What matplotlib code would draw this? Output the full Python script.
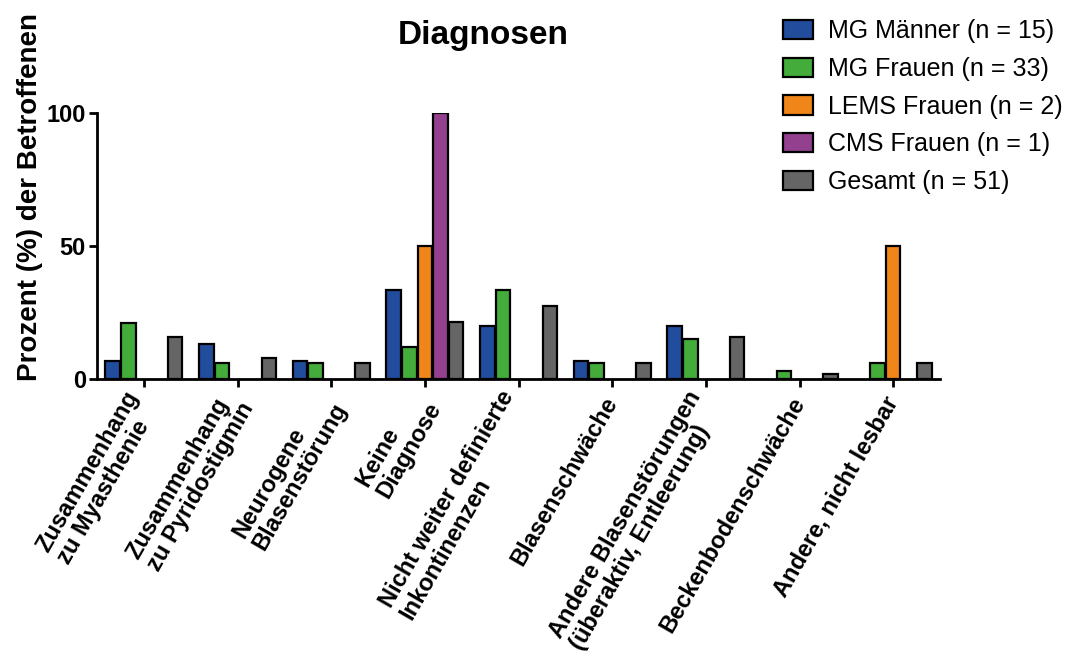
import numpy as np
import matplotlib
matplotlib.use("Agg")
import matplotlib.pyplot as plt

categories = [
    "Zusammenhang\nzu Myasthenie",
    "Zusammenhang\nzu Pyridostigmin",
    "Neurogene\nBlasenstörung",
    "Keine\nDiagnose",
    "Nicht weiter definierte\nInkontinenzen",
    "Blasenschwäche",
    "Andere Blasenstörungen\n(überaktiv, Entleerung)",
    "Beckenbodenschwäche",
    "Andere, nicht lesbar",
]

mg_maenner = [6.7, 13.3, 6.7, 33.3, 20.0, 6.7, 20.0, 0, 0]
mg_frauen = [21.2, 6.1, 6.1, 12.1, 33.3, 6.1, 15.2, 3.0, 6.1]
lems_frauen = [0, 0, 0, 50.0, 0, 0, 0, 0, 50.0]
cms_frauen = [0, 0, 0, 100.0, 0, 0, 0, 0, 0]
gesamt = [15.7, 7.8, 5.9, 21.6, 27.5, 5.9, 15.7, 2.0, 5.9]

series_labels = ["MG Männer (n = 15)", "MG Frauen (n = 33)", "LEMS Frauen (n = 2)",
                 "CMS Frauen (n = 1)", "Gesamt (n = 51)"]
colors = ["#214d9c", "#43ac3a", "#f0851a", "#93408f", "#656565"]

plt.rcParams["font.family"] = ["Liberation Sans", "DejaVu Sans"]

fig = plt.figure(figsize=(10.67, 6.65), dpi=100)
ax = fig.add_axes([0.091, 0.430, 0.790, 0.400])

x = np.arange(len(categories))
step = 1 / 6
width = 0.155
all_series = [mg_maenner, mg_frauen, lems_frauen, cms_frauen, gesamt]
for i, (vals, lab, col) in enumerate(zip(all_series, series_labels, colors)):
    vals = np.array(vals, dtype=float)
    vals[vals == 0] = np.nan
    ax.bar(x + (i - 2) * step, vals, width=width, color=col, edgecolor="black",
           linewidth=1.6, label=lab)

ax.set_xlim(-0.5, 8.5)
ax.set_ylim(0, 100)
ax.set_yticks([0, 50, 100])
ax.set_xticks(x)
ax.set_xticklabels(categories, rotation=60, ha="right", va="center",
                   rotation_mode="anchor", multialignment="left",
                   fontsize=17, fontweight="bold", linespacing=1.05)
for t in ax.get_yticklabels():
    t.set_fontweight("bold")
    t.set_fontsize(17)

for s in ["top", "right"]:
    ax.spines[s].set_visible(False)
for s in ["left", "bottom"]:
    ax.spines[s].set_linewidth(2)
ax.tick_params(width=2, length=6, direction="out")
ax.tick_params(axis="y", pad=2)
ax.tick_params(axis="x", pad=8)

ax.set_ylabel("Prozent (%) der Betroffenen", fontsize=20, fontweight="bold")
ax.yaxis.set_label_coords(-0.064, 0.684)
fig.text(0.453, 0.947, "Diagnosen", ha="center", va="center", fontsize=24, fontweight="bold")

fig.legend(loc="upper left", bbox_to_anchor=(0.722, 0.99), frameon=False,
           fontsize=18, borderpad=0, handlelength=1.2, handleheight=0.8,
           handletextpad=0.6, labelspacing=0.55)

fig.savefig("out.png", dpi=100)
